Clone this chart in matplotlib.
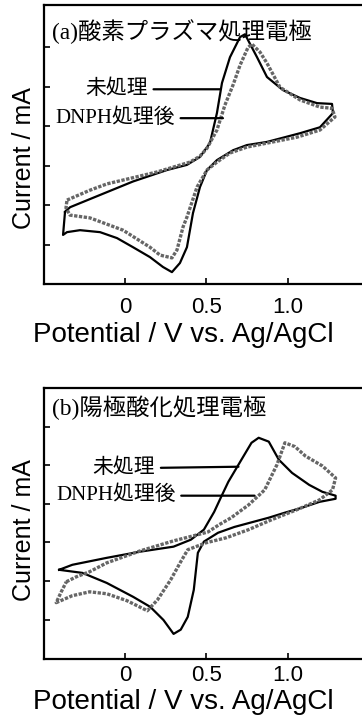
import matplotlib
matplotlib.use("Agg")
import matplotlib.pyplot as plt

# ---- data: cyclic voltammograms (potential V vs Ag/AgCl, current in arb. units) ----
# (a) oxygen plasma treated electrode
a_raw_v = [-0.368, -0.337, -0.153, 0.049, 0.258, 0.380, 0.460, 0.521, 0.564, 0.595,
           0.644, 0.706, 0.736, 0.810, 0.871, 0.969, 1.074, 1.178, 1.270, 1.276,
           1.196, 1.074, 0.871, 0.748, 0.663, 0.564, 0.503, 0.460, 0.417, 0.380,
           0.337, 0.288, 0.233, 0.153, 0.049, -0.049, -0.153, -0.276, -0.356, -0.380,
           -0.368]
a_raw_i = [-2.17, -2.05, -1.74, -1.40, -1.11, -0.98, -0.78, -0.43, 0.33, 1.09,
           1.74, 2.25, 2.32, 1.74, 1.24, 0.91, 0.71, 0.58, 0.56, 0.33,
           -0.03, -0.18, -0.40, -0.48, -0.61, -0.86, -1.11, -1.54, -2.20, -3.06,
           -3.46, -3.69, -3.56, -3.31, -3.06, -2.83, -2.68, -2.63, -2.68, -2.75,
           -2.17]
a_dnph_v = [-0.356, -0.215, -0.110, 0.196, 0.399, 0.460, 0.503, 0.564, 0.613, 0.663,
            0.706, 0.755, 0.779, 0.828, 0.871, 0.951, 1.074, 1.196, 1.270, 1.288,
            1.196, 1.055, 0.871, 0.748, 0.644, 0.564, 0.503, 0.442, 0.380, 0.356,
            0.319, 0.288, 0.215, 0.153, -0.012, -0.215, -0.337, -0.362, -0.356]
a_dnph_i = [-1.87, -1.62, -1.46, -1.16, -0.91, -0.76, -0.56, -0.10, 0.53, 1.04,
            1.54, 1.99, 2.07, 1.87, 1.59, 0.98, 0.66, 0.48, 0.45, 0.23,
            -0.10, -0.28, -0.43, -0.53, -0.68, -0.91, -1.11, -1.54, -2.30, -2.55,
            -3.13, -3.33, -3.26, -3.06, -2.63, -2.32, -2.25, -2.07, -1.87]

# (b) anodized electrode
b_raw_v = [-0.404, -0.323, -0.112, 0.093, 0.298, 0.404, 0.484, 0.547, 0.590, 0.634,
           0.714, 0.776, 0.820, 0.882, 0.944, 1.025, 1.130, 1.211, 1.292, 1.292,
           1.193, 1.087, 0.981, 0.882, 0.671, 0.571, 0.484, 0.447, 0.422, 0.385,
           0.342, 0.298, 0.236, 0.155, 0.050, -0.112, -0.261, -0.404]
b_raw_i = [-1.71, -1.58, -1.40, -1.24, -1.11, -0.93, -0.67, -0.21, 0.18, 0.57,
           1.14, 1.58, 1.71, 1.61, 1.14, 0.80, 0.49, 0.31, 0.21, 0.13,
           0.05, -0.10, -0.23, -0.36, -0.60, -0.75, -0.98, -1.27, -2.23, -2.93,
           -3.26, -3.37, -3.01, -2.67, -2.41, -2.05, -1.79, -1.71]
b_dnph_v = [-0.360, -0.298, -0.217, -0.112, 0.093, 0.298, 0.447, 0.509, 0.578, 0.652,
            0.758, 0.857, 0.932, 0.981, 1.043, 1.106, 1.211, 1.292, 1.273, 1.193,
            1.068, 0.901, 0.758, 0.621, 0.497, 0.385, 0.342, 0.280, 0.199, 0.137,
            0.012, -0.112, -0.217, -0.323, -0.422, -0.391, -0.360]
b_dnph_i = [-2.02, -1.89, -1.76, -1.53, -1.22, -0.96, -0.80, -0.73, -0.54, -0.36,
            -0.03, 0.36, 1.01, 1.58, 1.48, 1.24, 0.98, 0.67, 0.36, 0.10,
            -0.13, -0.41, -0.67, -0.88, -1.01, -1.19, -1.50, -1.97, -2.49, -2.77,
            -2.51, -2.33, -2.28, -2.38, -2.56, -2.28, -2.02]

x_ticks = [0, 0.5, 1.0]
x_tick_labels = ["0", "0.5", "1.0"]
y_ticks = [-3, -2, -1, 0, 1, 2]

titles = ["(a)酸素プラズマ処理電極", "(b)陽極酸化処理電極"]
label_raw = "未処理"
label_dnph = "DNPH処理後"

jp_font = ["Liberation Serif", "Noto Sans CJK JP"]
sans = "Liberation Sans"

fig = plt.figure(figsize=(3.62, 7.21), dpi=100)

panels = [
    dict(pos=[0.1215, 0.6061, 0.8785, 0.3870], ylim=(-3.99, 3.06),
         raw=(a_raw_v, a_raw_i), dnph=(a_dnph_v, a_dnph_i),
         title_y=0.903, ylab_y=0.453, xlab_y=-0.136, tick_pad=9,
         lab_raw=((0.141, 0.93), (0.583, 0.93)),
         lab_dnph=((0.307, 0.20), (0.601, 0.20))),
    dict(pos=[0.1215, 0.0860, 0.8785, 0.3759], ylim=(-4.02, 3.0),
         raw=(b_raw_v, b_raw_i), dnph=(b_dnph_v, b_dnph_i),
         title_y=0.926, ylab_y=0.476, xlab_y=-0.109, tick_pad=4,
         lab_raw=((0.186, 0.93), (0.696, 0.96)),
         lab_dnph=((0.311, 0.21), (0.795, 0.21))),
]

for p, title in zip(panels, titles):
    ax = fig.add_axes(p["pos"])
    ax.plot(*p["raw"], color="black", lw=1.6, solid_joinstyle="round")
    ax.plot(*p["dnph"], color="0.4", lw=2.4, linestyle=(0, (1, 0.45)))

    ax.set_xlim(-0.497, 1.454)
    ax.set_ylim(*p["ylim"])
    ax.set_xticks(x_ticks)
    ax.set_xticklabels(x_tick_labels, fontfamily=sans, fontsize=16)
    ax.set_yticks(y_ticks)
    ax.set_yticklabels([])
    ax.tick_params(direction="in", length=4, width=1.2)
    ax.tick_params(axis="x", pad=p["tick_pad"])
    ax.spines["right"].set_visible(False)
    for s in ["left", "top", "bottom"]:
        ax.spines[s].set_linewidth(1.6)

    ax.set_ylabel("Current / mA", fontfamily=sans, fontsize=18, va="center")
    ax.yaxis.set_label_coords(-0.062, p["ylab_y"])
    ax.set_xlabel("Potential / V vs. Ag/AgCl", fontfamily=sans, fontsize=20, va="top")
    ax.xaxis.set_label_coords(0.439, p["xlab_y"])

    ax.text(0.025, p["title_y"], title, transform=ax.transAxes,
            family=jp_font, fontsize=16.8, va="center", ha="left")

    for text, (txt_xy, end_xy) in [(label_raw, p["lab_raw"]), (label_dnph, p["lab_dnph"])]:
        ax.annotate(text, xy=end_xy, xytext=txt_xy, ha="right", va="center",
                    family=jp_font, fontsize=15,
                    arrowprops=dict(arrowstyle="-", lw=1.6, color="black",
                                    relpos=(1, 0.5), shrinkA=2, shrinkB=0))

fig.savefig("out.png", dpi=100)
